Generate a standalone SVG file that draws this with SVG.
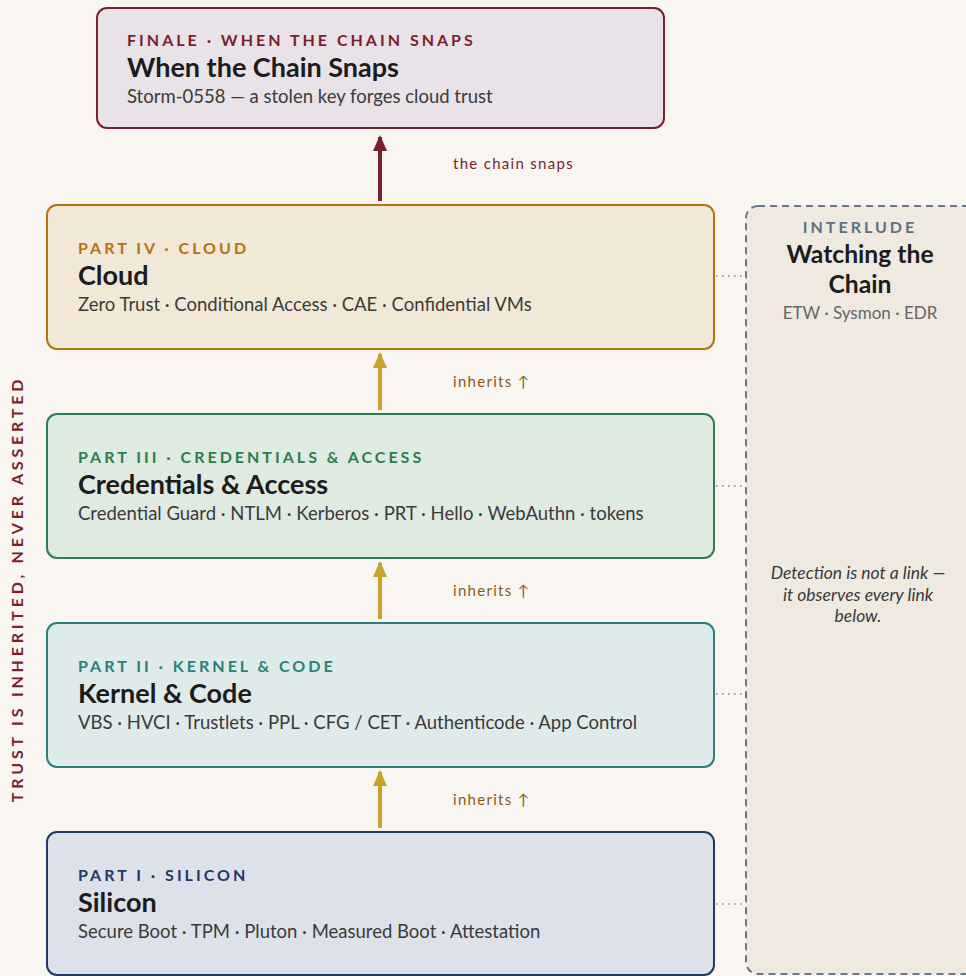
<svg xmlns="http://www.w3.org/2000/svg" width="966" height="976" viewBox="0 0 966 976">
  <style>
    .bg { fill: #f9f6f1; }
    .box { stroke-width: 2; }
    .kicker { font-family: "Lato", "Liberation Sans", sans-serif; font-size: 16px; font-weight: 700; letter-spacing: 3px; }
    .title { font-family: "Lato", "Liberation Sans", sans-serif; font-size: 27px; font-weight: 700; fill: #1c1c1c; }
    .sub { font-family: "Lato", "Liberation Sans", sans-serif; font-size: 18.5px; fill: #3a3a3a; }
    .edge-label { font-family: "Lato", "Liberation Sans", sans-serif; font-size: 15px; letter-spacing: 1.3px; }
    .dotted { stroke: #7d8794; stroke-width: 1.5; stroke-dasharray: 1.5 4.5; fill: none; }
    .note { font-family: "Lato", "Liberation Sans", sans-serif; font-size: 17.5px; font-style: italic; fill: #3a3a3a; text-anchor: middle; }
    .side-title { font-size: 24.7px; text-anchor: middle; }
    .side-sub { font-size: 17px; fill: #666; text-anchor: middle; }
  </style>
  <defs>
    <!-- arrowheads drawn along +x so orient="auto" follows the line -->
    <marker id="head-red" viewBox="0 0 16 14" refX="14" refY="7" markerWidth="16" markerHeight="14" markerUnits="userSpaceOnUse" orient="auto">
      <path d="M0,0 L16,7 L0,14 Z" fill="#7a1f2e"/>
    </marker>
    <marker id="head-gold" viewBox="0 0 16 14" refX="14" refY="7" markerWidth="16" markerHeight="14" markerUnits="userSpaceOnUse" orient="auto">
      <path d="M0,0 L16,7 L0,14 Z" fill="#c9a22e"/>
    </marker>
  </defs>

  <rect class="bg" x="0" y="0" width="966" height="976"/>

  <!-- side caption -->
  <text transform="translate(23,589) rotate(-90)" text-anchor="middle" font-family="Lato, 'Liberation Sans', sans-serif" font-size="16" font-weight="700" letter-spacing="3.8" fill="#7a1f2e">TRUST IS INHERITED, NEVER ASSERTED</text>

  <!-- connectors -->
  <g id="connectors">
    <line x1="380" y1="201" x2="380" y2="137" stroke="#7a1f2e" stroke-width="4" marker-end="url(#head-red)"/>
    <text class="edge-label" x="453" y="169" fill="#7a1f2e">the chain snaps</text>

    <line x1="380" y1="410" x2="380" y2="354" stroke="#c9a22e" stroke-width="4" marker-end="url(#head-gold)"/>
    <text class="edge-label" x="453" y="387" fill="#8a5a14">inherits ↑</text>

    <line x1="380" y1="619" x2="380" y2="563" stroke="#c9a22e" stroke-width="4" marker-end="url(#head-gold)"/>
    <text class="edge-label" x="453" y="596" fill="#8a5a14">inherits ↑</text>

    <line x1="380" y1="828" x2="380" y2="772" stroke="#c9a22e" stroke-width="4" marker-end="url(#head-gold)"/>
    <text class="edge-label" x="453" y="805" fill="#8a5a14">inherits ↑</text>

    <line class="dotted" x1="716" y1="276" x2="746" y2="276"/>
    <line class="dotted" x1="716" y1="486" x2="746" y2="486"/>
    <line class="dotted" x1="716" y1="694" x2="746" y2="694"/>
    <line class="dotted" x1="716" y1="904" x2="746" y2="904"/>
  </g>

  <!-- finale -->
  <g id="finale">
    <rect class="box" x="97" y="8" width="567" height="120" rx="10" fill="#e9e2e8" stroke="#7a1f2e"/>
    <text class="kicker" x="127" y="46" fill="#7a1f2e">FINALE · WHEN THE CHAIN SNAPS</text>
    <text class="title" x="127" y="77">When the Chain Snaps</text>
    <text class="sub" x="127" y="103">Storm-0558 — a stolen key forges cloud trust</text>
  </g>

  <!-- part IV -->
  <g id="cloud">
    <rect class="box" x="47" y="205" width="667" height="144" rx="10" fill="#f2e8d8" stroke="#b8720c"/>
    <text class="kicker" x="78" y="254" fill="#b8720c">PART IV · CLOUD</text>
    <text class="title" x="78" y="285">Cloud</text>
    <text class="sub" x="78" y="311">Zero Trust · Conditional Access · CAE · Confidential VMs</text>
  </g>

  <!-- part III -->
  <g id="credentials">
    <rect class="box" x="47" y="414" width="667" height="144" rx="10" fill="#dfeae1" stroke="#2e7d4f"/>
    <text class="kicker" x="78" y="463" fill="#2e7d4f">PART III · CREDENTIALS &amp; ACCESS</text>
    <text class="title" x="78" y="494">Credentials &amp; Access</text>
    <text class="sub" x="78" y="520">Credential Guard · NTLM · Kerberos · PRT · Hello · WebAuthn · tokens</text>
  </g>

  <!-- part II -->
  <g id="kernel">
    <rect class="box" x="47" y="623" width="667" height="144" rx="10" fill="#dfeaea" stroke="#2a7f7a"/>
    <text class="kicker" x="78" y="672" fill="#2a7f7a">PART II · KERNEL &amp; CODE</text>
    <text class="title" x="78" y="703">Kernel &amp; Code</text>
    <text class="sub" x="78" y="729">VBS · HVCI · Trustlets · PPL · CFG / CET · Authenticode · App Control</text>
  </g>

  <!-- part I -->
  <g id="silicon">
    <rect class="box" x="47" y="832" width="667" height="143" rx="10" fill="#dde1ea" stroke="#1f3a64"/>
    <text class="kicker" x="78" y="881" fill="#1f3a64">PART I · SILICON</text>
    <text class="title" x="78" y="912">Silicon</text>
    <text class="sub" x="78" y="938">Secure Boot · TPM · Pluton · Measured Boot · Attestation</text>
  </g>

  <!-- interlude -->
  <g id="interlude">
    <rect x="746" y="206" width="236" height="768" rx="12" fill="#efe9df" stroke="#687688" stroke-width="2" stroke-dasharray="7 5"/>
    <text class="kicker" x="860" y="233" text-anchor="middle" fill="#5f6f84">INTERLUDE</text>
    <text class="title side-title" x="860" y="263">Watching the</text>
    <text class="title side-title" x="860" y="293">Chain</text>
    <text class="sub side-sub" x="860" y="319">ETW · Sysmon · EDR</text>
    <text class="note" x="858" y="579">Detection is not a link —</text>
    <text class="note" x="858" y="601">it observes every link</text>
    <text class="note" x="858" y="622">below.</text>
  </g>
</svg>
